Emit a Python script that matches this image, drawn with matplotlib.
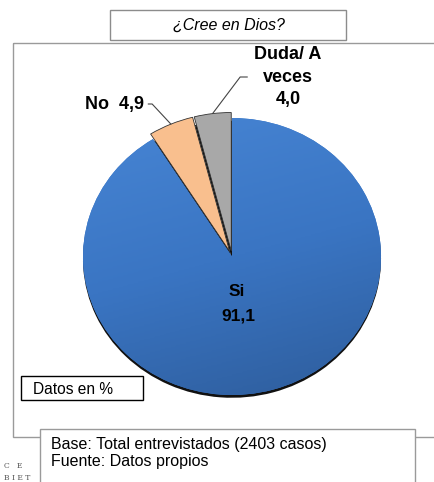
import matplotlib
matplotlib.use("Agg")
import matplotlib.pyplot as plt
import numpy as np
from matplotlib.patches import Rectangle
from matplotlib.colors import LinearSegmentedColormap

plt.rcParams['font.family'] = ['Liberation Sans', 'DejaVu Sans']

# data
labels = ["Si", "No", "Duda/ A\nveces"]
values = [91.1, 4.9, 4.0]
value_labels = ["91,1", "4,9", "4,0"]
colours = ["#3B77C6", "#F9BF8E", "#A8A8A8"]
explode = [0.0, 0.04, 0.04]

title = "¿Cree en Dios?"
note = "Datos en %"
source = "Base: Total entrevistados (2403 casos)\nFuente: Datos propios"

W, H = 434, 482
fig = plt.figure(figsize=(W / 100, H / 100), dpi=100)

# background axes in pixel coords for boxes and texts
bg = fig.add_axes([0, 0, 1, 1])
bg.set_xlim(0, W)
bg.set_ylim(H, 0)
bg.axis("off")

bg.add_patch(Rectangle((13, 43), 430, 394, fill=False, ec="#9A9A9A", lw=1))
bg.add_patch(Rectangle((110, 10), 236, 30, fc="white", ec="#8C8C8C", lw=1))
bg.text(229, 25, title, ha="center", va="center", fontsize=11.5, style="italic")
bg.add_patch(Rectangle((21, 376), 122, 24, fc="white", ec="black", lw=1))
bg.text(33, 389, note, ha="left", va="center", fontsize=11.2)
bg.text(4, 466, "C   E", ha="left", va="center", fontsize=5.5, family="DejaVu Serif", color="#555555")
bg.text(4, 478, "B I E T", ha="left", va="center", fontsize=5.5, family="DejaVu Serif", color="#555555")
bg.add_patch(Rectangle((40, 429), 375, 60, fc="white", ec="#9A9A9A", lw=1))
bg.text(51, 453, source, ha="left", va="center", fontsize=11.5, linespacing=1.2)

# pie axes
left, right, top, bottom = 83, 381, 118, 395
ax = fig.add_axes([left / W, 1 - bottom / H, (right - left) / W, (bottom - top) / H])

# shadow under the pie
shadow, _ = ax.pie(values, startangle=90, counterclock=False, colors=["#111111"] * 3,
                   center=(0, -0.02), wedgeprops=dict(lw=0))
wedges, _ = ax.pie(values, startangle=90, counterclock=False, colors=colours,
                   explode=explode, wedgeprops=dict(lw=0.6, ec="#333333"))
wedges[0].set_edgecolor("none")
ax.set_aspect("auto")
ax.set_xlim(-1, 1)
ax.set_ylim(-1, 1)
for p in shadow + wedges:
    p.set_clip_on(False)

# gradient on the big slice
cmap = LinearSegmentedColormap.from_list("blue", ["#2E5D9C", "#3A75C3", "#4785D4"])
yy, xx = np.mgrid[-1:1:200j, -1:1:200j]
grad = yy * 0.85 - xx * 0.25
im = ax.imshow(grad, extent=(-1, 1, -1, 1), origin="lower", cmap=cmap, aspect="auto",
               zorder=wedges[0].get_zorder() + 0.1)
im.set_clip_path(wedges[0])

def px(x, y):
    # pixel position -> pie data coords
    return ((x - left) / (right - left) * 2 - 1, 1 - (y - top) / (bottom - top) * 2)

def rim_point(w, r=1.0):
    mid = np.deg2rad((w.theta1 + w.theta2) / 2)
    cx, cy = w.center
    return (cx + r * np.cos(mid), cy + r * np.sin(mid))

ax.text(*px(237, 292), labels[0], ha="center", va="center", fontsize=12.5, fontweight="bold")
ax.text(*px(238, 316), value_labels[0], ha="center", va="center", fontsize=12.5, fontweight="bold")

ax.annotate(labels[1] + "  " + value_labels[1], xy=rim_point(wedges[1]), xytext=px(144, 104),
            ha="right", va="center", fontsize=13, fontweight="bold",
            arrowprops=dict(arrowstyle="-", lw=0.8, color="#444444",
                            connectionstyle="angle,angleA=0,angleB=133,rad=0",
                            shrinkA=1, shrinkB=0),
            annotation_clip=False)
ax.annotate(labels[2] + "\n" + value_labels[2], xy=rim_point(wedges[2]), xytext=px(288, 77),
            ha="center", va="center", fontsize=13, fontweight="bold", linespacing=1.45,
            arrowprops=dict(arrowstyle="-", lw=0.8, color="#444444",
                            relpos=(0.0, 0.5),
                            connectionstyle="angle,angleA=0,angleB=53,rad=0",
                            shrinkA=3, shrinkB=0),
            annotation_clip=False)

fig.savefig("out.png", dpi=100)
